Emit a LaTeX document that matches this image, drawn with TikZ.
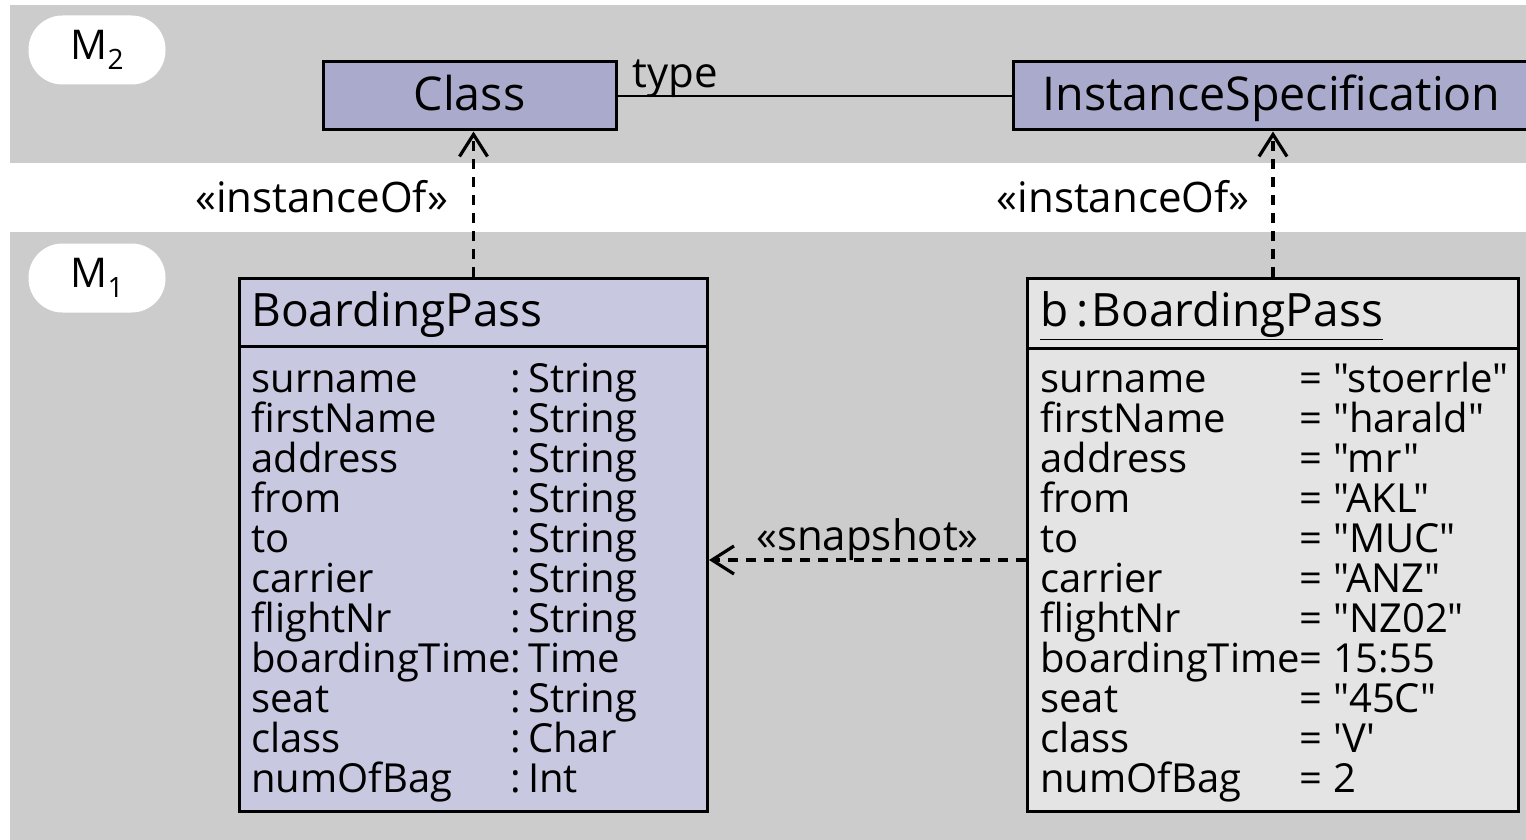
\documentclass[tikz,border=0pt]{standalone}
\usepackage{fontspec}
\setmainfont{Open Sans}[Ligatures=TeXOff]
\usetikzlibrary{arrows.meta,positioning}

\definecolor{grigio}{HTML}{CCCCCC}
\definecolor{lilla}{HTML}{AAAACC}
\definecolor{lillachiaro}{HTML}{C8C8E0}
\definecolor{grigiochiaro}{HTML}{E4E4E4}

\newcommand{\pedice}[1]{\raisebox{-0.45ex}{\fontsize{14}{14}\selectfont #1}}
\newcommand{\riga}[2]{\smash{#1} & \smash{#2}\\}

\tikzset{
	livello/.style={fill=white, rounded corners=17pt, minimum width=68.5pt, minimum height=34.5pt, inner sep=0pt, font=\fontsize{20.5}{24}\selectfont},
	metaclasse/.style={draw, line width=1.5pt, fill=lilla, minimum height=34pt, inner sep=0pt, text height=18pt, text depth=3.4pt, font=\fontsize{23.3}{26}\selectfont},
	classe/.style={draw, line width=1.5pt, anchor=north west, inner sep=0pt},
	titolo/.style={anchor=base west, inner sep=0pt, font=\fontsize{23}{26}\selectfont},
	attributi/.style={anchor=base west, inner sep=0pt, font=\fontsize{20}{20}\selectfont},
	stereotipo/.style={inner sep=0pt, font=\fontsize{21}{22}\selectfont},
	dipendenza/.style={line width=1.6pt, dash pattern=on 5pt off 4pt, -{Straight Barb[length=11pt,width=14pt]}}
}

\begin{document}
\begin{tikzpicture}[x=0.5pt, y=-0.5pt]
	\useasboundingbox (0,0) rectangle (1526,840);
	% fasce dei livelli
	\fill[grigio] (10,5) rectangle (1526,163);
	\fill[grigio] (10,232) rectangle (1526,840);

	\node[livello] (m2) at (97,50) {M\pedice{2}};
	\node[livello] (m1) at (97,278) {M\pedice{1}};

	% livello M2
	\node[metaclasse, minimum width=146.5pt] (cls) at (469.5,96) {Class};
	\node[metaclasse, minimum width=258.5pt] (is) at (1271.5,96) {InstanceSpecification};
	\draw[line width=1.3pt] (cls.east) -- (is.west)
		node[pos=0, anchor=south west, xshift=7pt, yshift=-1.5pt, stereotipo] {type};

	% livello M1: classe
	\node[classe, fill=lillachiaro, minimum width=234pt, minimum height=266.5pt] (bp) at (238,277) {};
	\node[titolo] (bptit) at (251,326) {BoardingPass};
	\draw[line width=1.5pt] (bp.north west) ++(0,69) -- ++(468,0);
	\node[attributi] (bpatt) at (251,392) {%
		\begin{tabular}[t]{@{}l@{}l@{}}
			\riga{surname}{:\,String}
			\riga{firstName}{:\,String}
			\riga{address}{:\,String}
			\riga{from}{:\,String}
			\riga{to}{:\,String}
			\riga{carrier}{:\,String}
			\riga{flightNr}{:\,String}
			\riga{boardingTime}{:\,Time}
			\riga{seat}{:\,String}
			\riga{class}{:\,Char}
			\smash{numOfBag} & \smash{:\,Int}
		\end{tabular}};

	% livello M1: istanza
	\node[classe, fill=grigiochiaro, minimum width=245.5pt, minimum height=266.5pt] (ist) at (1026,277) {};
	\node[titolo] (isttit) at (1040,326) {\underline{b\,:\hspace{1.5pt}BoardingPass}};
	\draw[line width=1.5pt] (ist.north west) ++(0,71) -- ++(491,0);
	\node[attributi] (istatt) at (1040,392) {%
		\begin{tabular}[t]{@{}l@{}l@{}}
			\riga{surname}{=\ "stoerrle"}
			\riga{firstName}{=\ "harald"}
			\riga{address}{=\ "mr"}
			\riga{from}{=\ "AKL"}
			\riga{to}{=\ "MUC"}
			\riga{carrier}{=\ "ANZ"}
			\riga{flightNr}{=\ "NZ02"}
			\riga{boardingTime}{=\ 15:55}
			\riga{seat}{=\ "45C"}
			\riga{class}{=\ 'V'}
			\smash{numOfBag} & \smash{=\ 2}
		\end{tabular}};

	% dipendenze
	\draw[dipendenza] (bp.north) -- (bp.north |- cls.south)
		node[pos=0.55, left=12pt, stereotipo] {«instanceOf»};
	\draw[dipendenza] (ist.north) -- (ist.north |- is.south)
		node[pos=0.55, left=11pt, stereotipo] {«instanceOf»};
	\coordinate (snap) at (0,560);
	\draw[dipendenza] (ist.west |- snap) -- (bp.east |- snap)
		node[midway, above=-1pt, stereotipo] {«snapshot»};
\end{tikzpicture}
\end{document}
